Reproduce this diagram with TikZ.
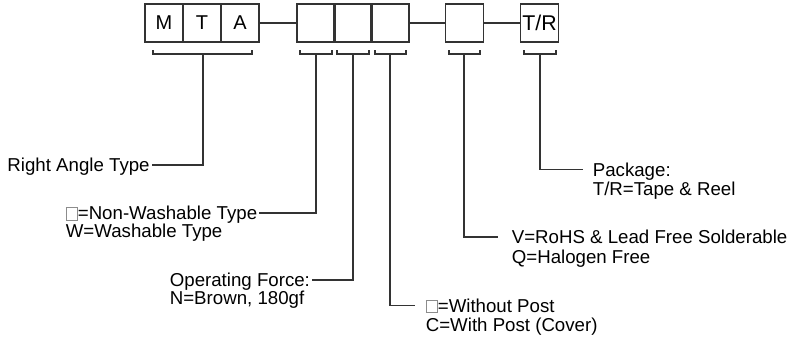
\documentclass[tikz,border=0pt]{standalone}
\usepackage{fontspec}
\setmainfont{Liberation Sans}

\tikzset{
  cell/.style={draw, minimum width=28.5pt, minimum height=28.5pt, inner sep=0pt,
    text=black, font=\fontsize{15}{17}\selectfont},
  lbl/.style={inner sep=1pt, text height=10pt, text depth=0pt, text=black,
    font=\fontsize{14}{16}\selectfont},
}
\newcommand{\blankbox}{{\color{black!45}\setlength{\fboxsep}{0pt}\setlength{\fboxrule}{0.6pt}\fbox{\rule{0pt}{8.6pt}\hspace{7.8pt}}}}

\begin{document}
\begin{tikzpicture}[x=0.75pt,y=-0.75pt,line width=0.8pt,color=black!80]
\useasboundingbox (0,0) rectangle (793,340);

% part number fields
\node[cell] (m) at (164,23) {M};
\node[cell] (t) at (202,23) {T};
\node[cell] (a) at (240,23) {A};
\node[cell] (s1) at (316,23) {};
\node[cell] (s2) at (353,23) {};
\node[cell] (s3) at (390,23) {};
\node[cell] (rv) at (464.5,23) {};
\node[cell,font=\fontsize{16}{18}\selectfont] (tr) at (539.5,23) {T/R};

\draw (a) -- (s1);
\draw (s3) -- (rv);
\draw (rv) -- (tr);

% brackets
\draw (153,50) -- (153,54) -- (252,54) -- (252,50);
\coordinate (b1) at (203,54);
\draw (300,50) -- (300,54) -- (332,54) -- (332,50);
\coordinate (b2) at (316,54);
\draw (337,50) -- (337,54) -- (369,54) -- (369,50);
\coordinate (b3) at (353,54);
\draw (375,50) -- (375,54) -- (406,54) -- (406,50);
\coordinate (b4) at (390,54);
\draw (449,50) -- (449,54) -- (480,54) -- (480,50);
\coordinate (b5) at (464,54);
\draw (524,50) -- (524,54) -- (556,54) -- (556,50);
\coordinate (b6) at (540,54);

% labels
\node[lbl,anchor=east] (rat) at (151.5,165) {Right Angle Type};
\draw (b1) |- (rat.east);

\node[lbl,anchor=west] (nw) at (64,213) {\blankbox=Non-Washable Type};
\node[lbl,anchor=west] (ww) at (64,231) {W=Washable Type};
\draw (b2) |- (nw.east);

\node[lbl,anchor=west] (of) at (168,280) {Operating Force:};
\node[lbl,anchor=west] (nb) at (168,298) {N=Brown, 180gf};
\draw (b3) |- (of.east);

\node[lbl,anchor=west] (wp) at (424,305.5) {\blankbox=Without Post};
\node[lbl,anchor=west] (cp) at (424,324.5) {C=With Post (Cover)};
\draw[shorten >=7pt] (b4) |- (wp.west);

\node[lbl,anchor=west] (vr) at (510,237) {V=RoHS \& Lead Free Solderable};
\node[lbl,anchor=west] (qh) at (510,257) {Q=Halogen Free};
\draw[shorten >=9pt] (b5) |- (vr.west);

\node[lbl,anchor=west] (pk) at (591,169.5) {Package:};
\node[lbl,anchor=west] (tp) at (591,189) {T/R=Tape \& Reel};
\draw[shorten >=6pt] (b6) |- (pk.west);
\end{tikzpicture}
\end{document}
